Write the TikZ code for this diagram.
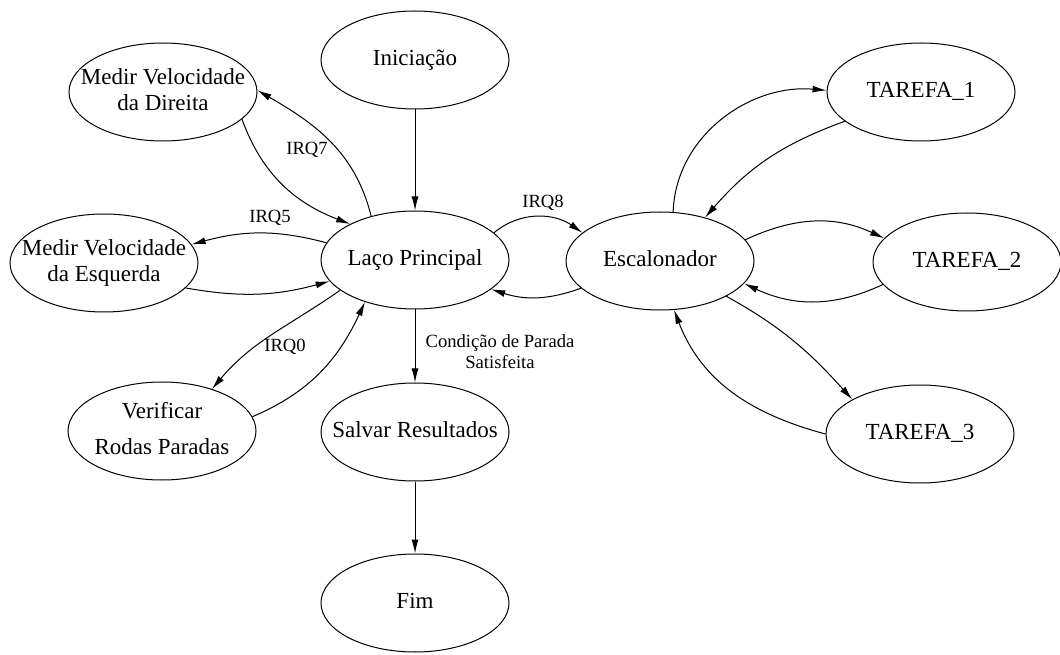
\documentclass[tikz,border=0pt]{standalone}
\usepackage{fontspec}
\setmainfont{Liberation Serif}
\usepackage{tikz}
\usetikzlibrary{shapes.geometric,arrows.meta}
\newcommand{\rotulo}[1]{\makebox[0pt]{\begin{tabular}{@{}c@{}}#1\end{tabular}}}

\begin{document}
\begin{tikzpicture}[x=0.5pt,y=0.5pt,line width=.5pt,
  estado/.style={ellipse,draw,minimum width=94pt,minimum height=49pt,inner sep=0pt,
    font=\fontsize{11.5}{13}\selectfont},
  seta/.style={-{Latex[length=7pt,width=3.5pt]}},
  irq/.style={inner sep=1pt,font=\fontsize{9.3}{10.5}\selectfont}]
\useasboundingbox (0,0) rectangle (1060,654);
\node[estado] (ini) at (415,594) {\rotulo{Iniciação}};
\node[estado] (mvd) at (163,562) {\rotulo{Medir Velocidade\\da Direita}};
\node[estado] (laco) at (415,394) {\rotulo{Laço Principal}};
\node[estado] (mve) at (104,391) {\rotulo{Medir Velocidade\\da Esquerda}};
\node[estado] (esc) at (660,393) {\rotulo{Escalonador}};
\node[estado] (t1) at (921,562) {\rotulo{TAREFA\_1}};
\node[estado] (t2) at (967,392) {\rotulo{TAREFA\_2}};
\node[estado] (ver) at (162,223) {\rotulo{Verificar\\[5pt]Rodas Paradas}};
\node[estado] (salv) at (415,222) {\rotulo{Salvar Resultados}};
\node[estado] (t3) at (920,220) {\rotulo{TAREFA\_3}};
\node[estado] (fim) at (415,51) {\rotulo{Fim}};
\draw[seta] (ini) -- (laco);
\draw[seta] (laco) -- (salv);
\draw[seta] (salv) -- (fim);
\draw[seta] (laco.135) to[out=104,in=-30] (mvd.1);
\draw[seta] (mvd.-19) to[out=-70,in=159] (laco.151);
\draw[seta] (laco.169) to[out=165,in=15] (mve.12);
\draw[seta] (mve.-17) to[out=-10,in=195] (laco.194);
\draw[seta] (laco.202) to[out=215,in=50] (ver.40);
\draw[seta] (ver.9) to[out=23,in=245] (laco.220);
\draw[seta] (laco.19) to[out=40,in=145] (esc.160);
\draw[seta] (esc.199) to[out=200,in=-18] (laco.-21);
\draw[seta] (esc.75) to[out=88,in=175] (t1.179);
\draw[seta] (t1.201) to[out=200,in=49] (esc.44);
\draw[seta] (esc.14) to[out=25,in=155] (t2.164);
\draw[seta] (t2.195) to[out=205,in=-25] (esc.-15);
\draw[seta] (esc.-28) to[out=-29,in=132] (t3.153);
\draw[seta] (t3.180) to[out=165,in=-69] (esc.-74);
\node[irq] (irq7) at (307,504) {IRQ7};
\node[irq] (irq5) at (270,436) {IRQ5};
\node[irq] (irq0) at (285,307) {IRQ0};
\node[irq] (irq8) at (543,451) {IRQ8};
\node[irq,align=center] (cond) at (500,302) {Condição de Parada\\Satisfeita};
\end{tikzpicture}
\end{document}
